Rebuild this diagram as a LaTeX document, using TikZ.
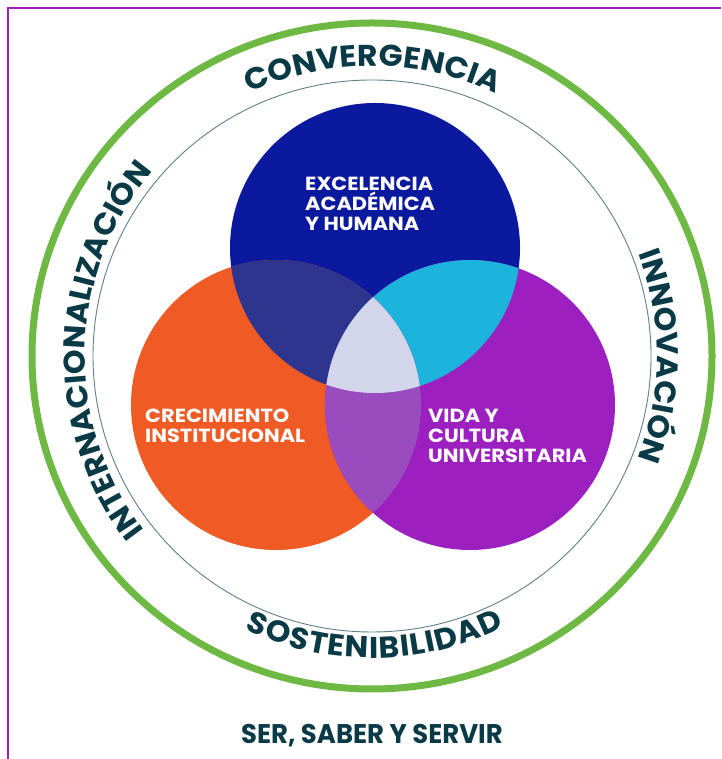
\documentclass[tikz,border=0pt]{standalone}
\usepackage{fontspec}
\setmainfont{Poppins}
\usetikzlibrary{decorations.text,positioning}
\newfontfamily\ringfont{Poppins}[FakeStretch=1.05]
\newfontfamily\vennfont{Poppins}[FakeStretch=1.1]
\newfontfamily\mottofont{Poppins}[FakeStretch=0.96]
\definecolor{framepurple}{RGB}{160,30,188}
\definecolor{ringgreen}{RGB}{109,185,68}
\definecolor{ringline}{RGB}{94,128,136}
\definecolor{ringteal}{RGB}{10,58,70}
\definecolor{exblue}{RGB}{11,25,158}
\definecolor{crorange}{RGB}{240,90,37}
\definecolor{vipurple}{RGB}{156,31,192}
\definecolor{bluorange}{RGB}{46,53,142}
\definecolor{blupurple}{RGB}{28,180,220}
\definecolor{orpurple}{RGB}{154,76,191}
\definecolor{allthree}{RGB}{211,213,234}

\begin{document}
\begin{tikzpicture}[x=1pt, y=1pt,
  venn/.style={circle, minimum size=290pt, inner sep=0pt},
  lbl/.style={text=white, font=\vennfont\bfseries\fontsize{19}{20}\selectfont,
    align=left, inner sep=0pt, anchor=north west},
  ringtext/.style={decorate, decoration={text along path,
    text={|\ringfont\bfseries\fontsize{30}{30}\selectfont|#1},
    text color=ringteal, text align={fit to path}}}
]
\useasboundingbox (0,0) rectangle (721,759);
\fill[white] (0,0) rectangle (721,759);
\draw[framepurple, line width=2.5pt] (8,0) -- (8,751) -- (721,751);

% outer rings
\coordinate (mid) at (372,403);
\draw[ringgreen, line width=7pt] (mid) ellipse[x radius=340, y radius=333];
\draw[ringline, line width=0.9pt] (mid) ellipse[x radius=279, y radius=276];

% three circles
\node[venn, fill=exblue] (exc) at (375,511) {};
\node[venn, fill=crorange] (cre) at (276,354) {};
\node[venn, fill=vipurple] (vid) at (470,354) {};

% overlaps
\begin{scope}
  \clip (exc.center) circle[radius=145];
  \fill[bluorange] (cre.center) circle[radius=145];
  \fill[blupurple] (vid.center) circle[radius=145];
\end{scope}
\begin{scope}
  \clip (cre.center) circle[radius=145];
  \fill[orpurple] (vid.center) circle[radius=145];
  \clip (vid.center) circle[radius=145];
  \fill[allthree] (exc.center) circle[radius=145];
\end{scope}

\node[lbl] (exctext) at (305,582) {EXCELENCIA\\ACADÉMICA\\Y HUMANA};
\node[lbl] (cretext) at (145,350) {CRECIMIENTO\\INSTITUCIONAL};
\node[lbl] (vidtext) at (428,350) {VIDA Y\\CULTURA\\UNIVERSITARIA};

% words round the ring
\path[ringtext={CONVERGENCIA}] ([shift={(115:290)}]mid) arc[start angle=115, end angle=65, radius=290];
\path[ringtext={INNOVACIÓN}] ([shift={(21:285)}]mid) arc[start angle=21, end angle=-19, radius=285];
\path[ringtext={INTERNACIONALIZACIÓN}] ([shift={(217.5:287)}]mid) arc[start angle=217.5, end angle=142, radius=287];
\path[ringtext={SOSTENIBILIDAD}] ([shift={(245:302)}]mid) arc[start angle=245, end angle=296, radius=302];

\node[font=\mottofont\bfseries\fontsize{27}{27}\selectfont, text=ringteal, anchor=base] (motto) at (372,16) {SER, SABER Y SERVIR};
\end{tikzpicture}
\end{document}
